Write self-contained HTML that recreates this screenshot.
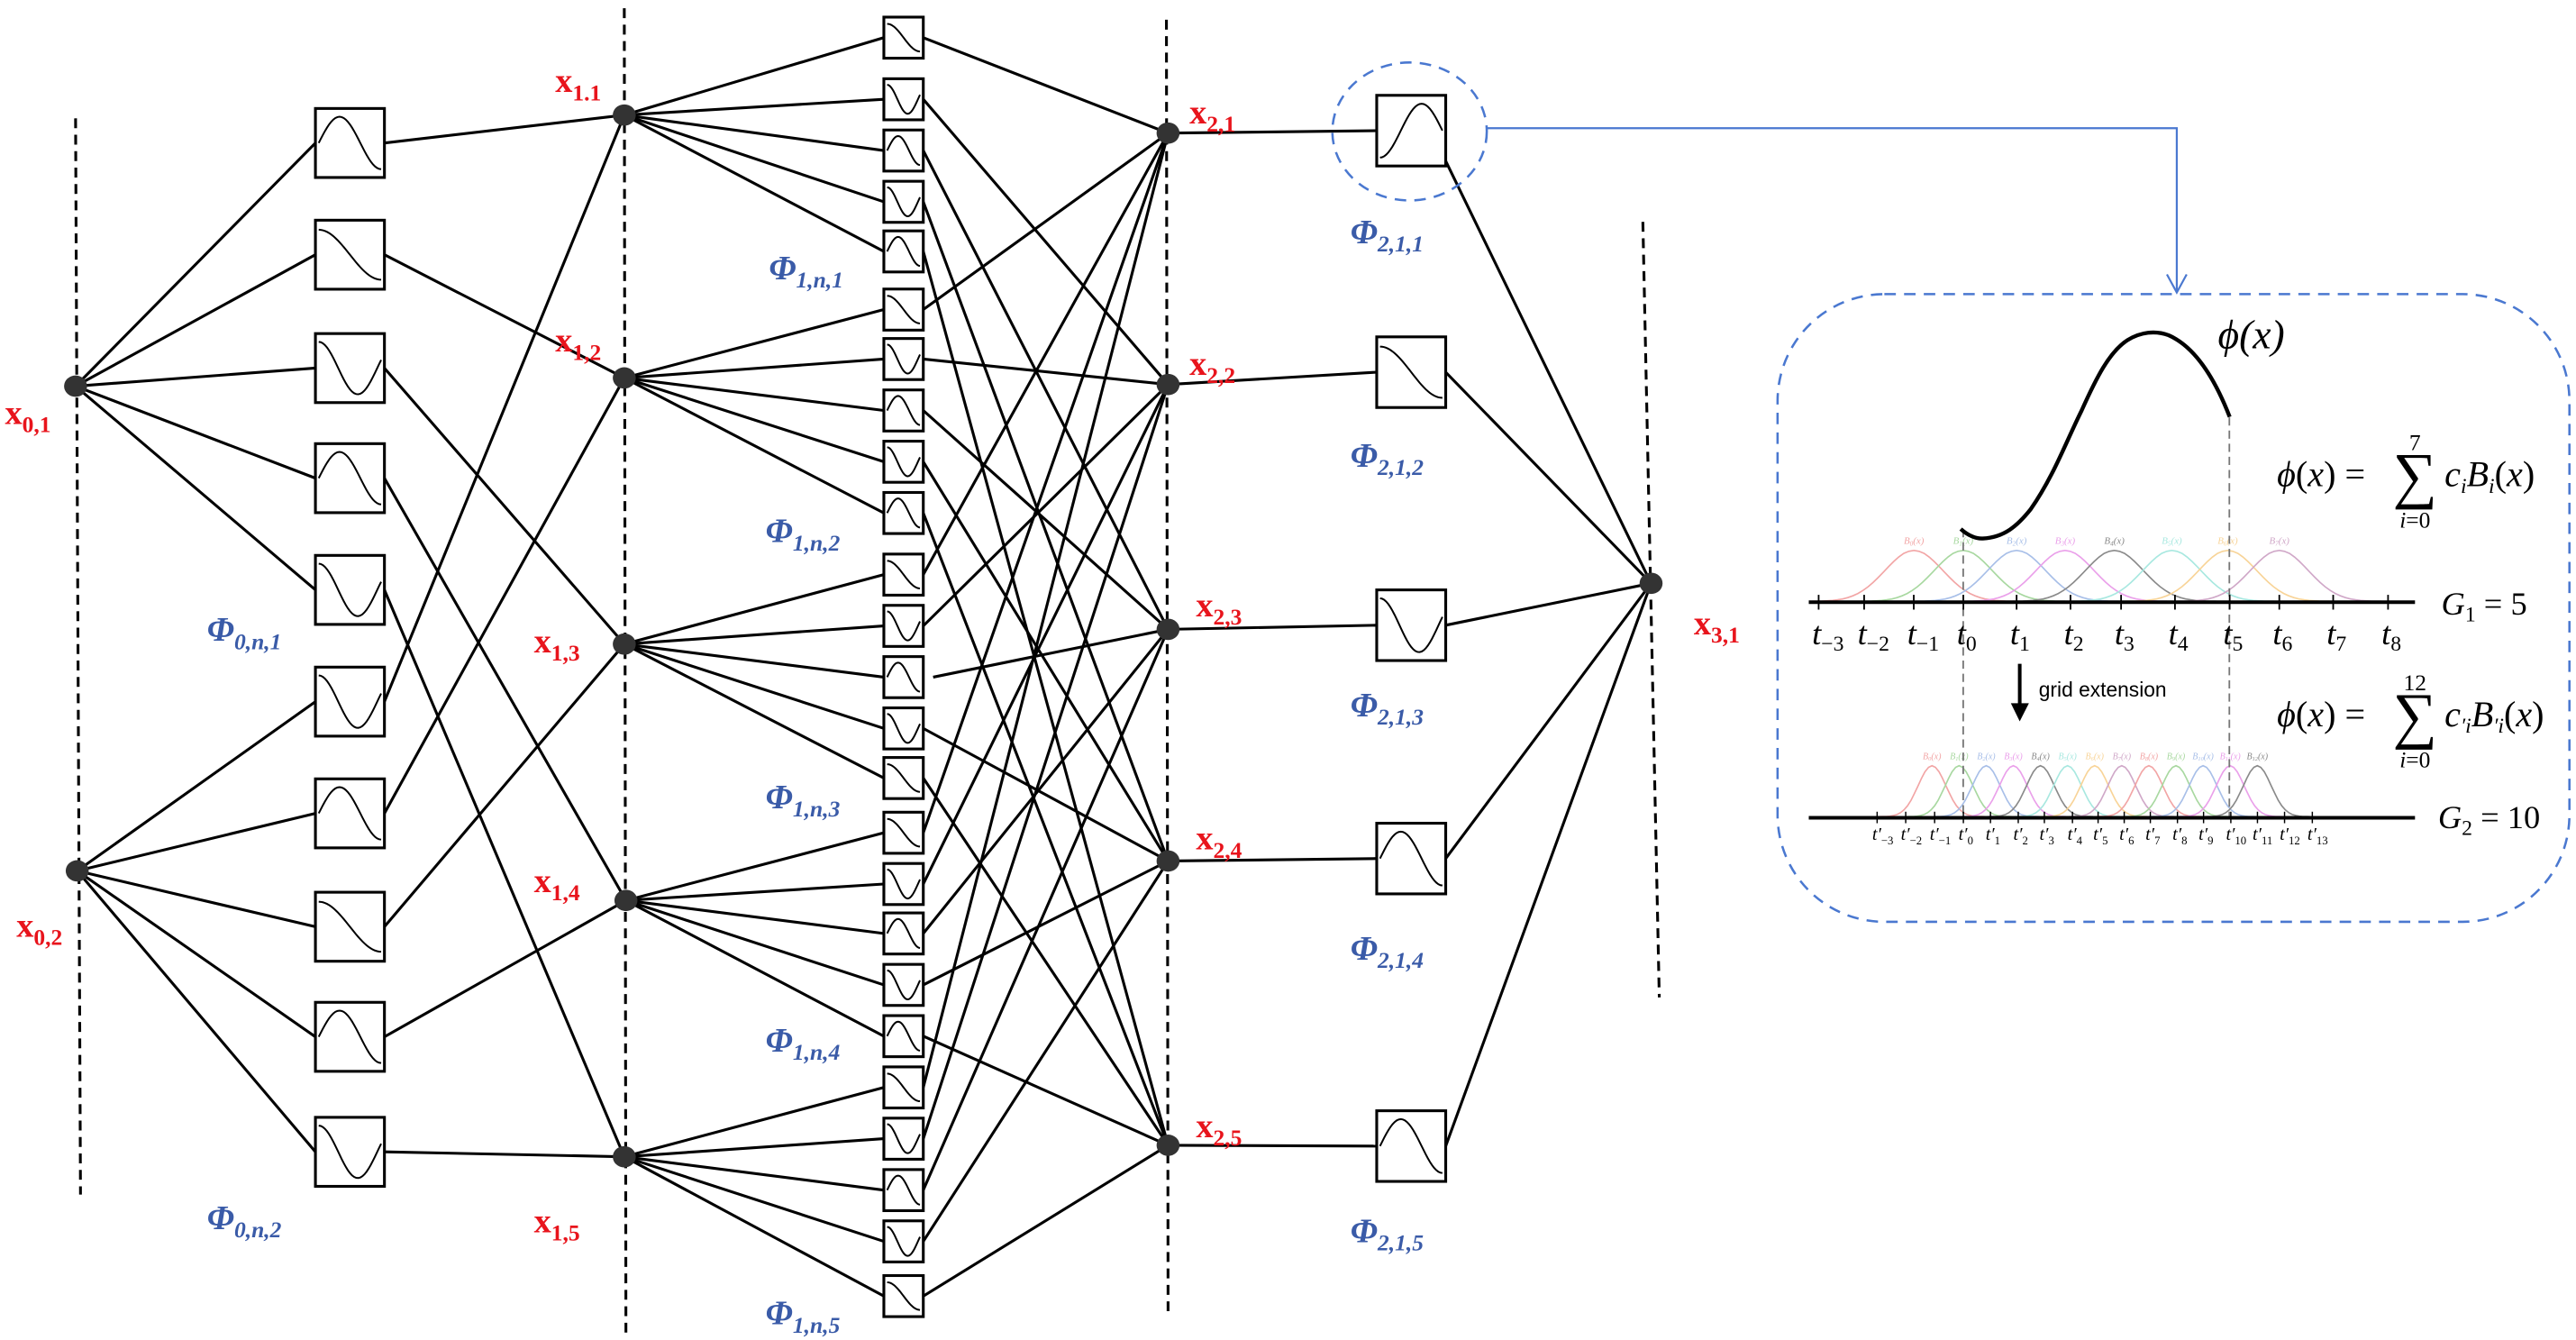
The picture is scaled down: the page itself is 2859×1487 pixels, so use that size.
<!DOCTYPE html>
<html><head><meta charset="utf-8"><style>
html,body{margin:0;padding:0;background:#fff;}
svg{display:block;}
</style></head><body>
<svg id="s" xmlns="http://www.w3.org/2000/svg" width="2859" height="1487" viewBox="0 0 1568 815.5">
<rect width="1568" height="815.5" fill="#fff"/>
<g id="g"></g>
</svg>
<script>
var g=document.getElementById('g');
var out='';
function L(x1,y1,x2,y2,w,c,extra){out+='<line x1="'+x1+'" y1="'+y1+'" x2="'+x2+'" y2="'+y2+'" stroke="'+(c||'#000')+'" stroke-width="'+(w||1.7)+'" '+(extra||'')+'/>';}
function D(x1,y1,x2,y2){L(x1,y1,x2,y2,1.7,'#000','stroke-dasharray="6 4"');}
function node(x,y){out+='<ellipse cx="'+x+'" cy="'+y+'" rx="7" ry="6.5" fill="#333"/>';}
var F={
 hump:function(t){return 0.5-0.42*Math.sin(Math.PI*1.5*t);},
 S:function(t){return 0.1+0.8*(1-Math.cos(Math.PI*t))/2;},
 dip:function(t){return 0.5-0.42*Math.cos(Math.PI*1.6*t);},
 rise:function(t){return 0.5+0.42*Math.cos(Math.PI*1.5*t);}
};
function box(x,y,w,h,type,sw){
 out+='<rect x="'+x+'" y="'+y+'" width="'+w+'" height="'+h+'" fill="#fff" stroke="#000" stroke-width="'+(sw||1.7)+'"/>';
 var p='';for(var i=0;i<=30;i++){var t=i/30;var px=x+2+t*(w-4);var py=y+2+F[type](t)*(h-4);p+=(i?'L':'M')+px.toFixed(2)+','+py.toFixed(2);}
 out+='<path d="'+p+'" fill="none" stroke="#000" stroke-width="1.1"/>';
}
function xl(x,y,sub){out+='<text x="'+x+'" y="'+y+'" font-family="Liberation Serif, serif" font-weight="bold" font-size="21" fill="#e8141c">x<tspan font-size="14" dy="5">'+sub+'</tspan></text>';}
function pl(x,y,sub){out+='<text x="'+x+'" y="'+y+'" font-family="Liberation Serif, serif" font-weight="bold" font-style="italic" font-size="21" fill="#3a5ba8">Φ<tspan font-size="14" dy="5">'+sub+'</tspan></text>';}

D(46,72,49,727);
D(380,5,381,815);
D(710,12,711,798);
D(1000,135,1010,607);

var n0=[[46,235],[47,530]];
var b0t=[66,134,203,270,338,406,474,543,610,680];
var b0type=['hump','S','dip','hump','dip','dip','hump','S','hump','dip'];
var n1=[[380,70],[380,230],[380,392],[381,548],[380,704]];
for(var i=0;i<10;i++){
 var n=n0[i<5?0:1];var cy=b0t[i]+21;
 L(n[0],n[1],192,cy);
 var t=n1[i%5];L(234,cy,t[0],t[1]);
}
for(var i=0;i<10;i++)box(192,b0t[i],42,42,b0type[i]);

var b1t=[10.4,47.9,79.1,110.3,140.5,175.9,206,237.3,268.5,299.7,337.2,368.4,399.6,430.8,461,494.3,525.5,555.6,586.9,618.1,649.3,680.5,711.8,743,776.3];
var b1type=['S','dip','hump','dip','hump','S','dip','hump','dip','hump','S','dip','hump','dip','S','S','dip','hump','dip','hump','S','dip','hump','dip','S'];
var n2=[[711,81],[711,234],[711,383],[711,524],[711,697]];
for(var i=0;i<25;i++){
 var gi=Math.floor(i/5),k=i%5;var cy=b1t[i]+12.5;
 L(n1[gi][0],n1[gi][1],538,cy);
 var t=n2[k];
 var sx=562; if(i==12) sx=568;
 L(sx,cy,t[0],t[1]);
}
for(var i=0;i<25;i++)box(538,b1t[i],24,25,b1type[i],1.7);

var b2t=[58,205,359,501,676];
var b2type=['rise','S','dip','hump','hump'];
var n3=[1005,355];
for(var i=0;i<5;i++){
 var cy=b2t[i]+21.5;
 L(n2[i][0],n2[i][1],838,cy);
 L(880,i==0?b2t[i]+40:cy,n3[0],n3[1]);
}
for(var i=0;i<5;i++)box(838,b2t[i],42,43,b2type[i]);

n0.forEach(function(n){node(n[0],n[1]);});
n1.forEach(function(n){node(n[0],n[1]);});
n2.forEach(function(n){node(n[0],n[1]);});
node(1005,355);

xl(3,258,'0,1');xl(10,570,'0,2');
xl(338,56,'1.1');xl(338,214,'1,2');xl(325,397,'1,3');xl(325,543,'1,4');xl(325,750,'1,5');
xl(724,75,'2,1');xl(724,228,'2,2');xl(728,375,'2,3');xl(728,517,'2,4');xl(728,692,'2,5');
xl(1031,386,'3,1');
pl(126,390,'0,n,1');pl(126,748,'0,n,2');
pl(468,170,'1,n,1');pl(466,330,'1,n,2');pl(466,492,'1,n,3');pl(466,640,'1,n,4');pl(466,806,'1,n,5');
pl(822,148,'2,1,1');pl(822,284,'2,1,2');pl(822,436,'2,1,3');pl(822,584,'2,1,4');pl(822,756,'2,1,5');

out+='<ellipse cx="858" cy="80" rx="47" ry="42" fill="none" stroke="#4a78d0" stroke-width="1.4" stroke-dasharray="7 5"/>';
out+='<polyline points="905,78 1325,78 1325,178" fill="none" stroke="#4a78d0" stroke-width="1.2"/>';
out+='<polyline points="1319,167 1325,178 1331,167" fill="none" stroke="#4a78d0" stroke-width="1.2"/>';
out+='<rect x="1082" y="179" width="482" height="382" rx="65" ry="65" fill="none" stroke="#4a78d0" stroke-width="1.4" stroke-dasharray="7 5"/>';

var cols=['#f2a5a5','#a8d8a0','#a8bfe8','#eaa0ea','#8a8a8a','#a8e8e0','#f8d498','#d0a8c8','#f2a5a5','#a8d8a0','#a8bfe8','#eaa0ea','#8a8a8a'];
var c1=[1165,1195,1227.5,1257,1287,1322,1356,1387.4];
for(var i=0;i<8;i++){
 var p='';for(var j=0;j<=40;j++){var dx=-62+124*j/40;var y=366-31*Math.exp(-Math.pow(dx/25,2));p+=(j?'L':'M')+(c1[i]+dx).toFixed(1)+','+y.toFixed(1);}
 out+='<path d="'+p+'" fill="none" stroke="'+cols[i]+'" stroke-width="0.9"/>';
 out+='<text x="'+c1[i]+'" y="331" font-family="Liberation Serif, serif" font-style="italic" font-size="6" fill="'+cols[i]+'" text-anchor="middle">B<tspan font-size="4" dy="1">'+i+'</tspan><tspan dy="-1">(x)</tspan></text>';
}
for(var i=0;i<13;i++){
 var cx=1176+16.5*i;
 var p='';for(var j=0;j<=30;j++){var dx=-32+64*j/30;var y=497-31*Math.exp(-Math.pow(dx/12,2));p+=(j?'L':'M')+(cx+dx).toFixed(1)+','+y.toFixed(1);}
 out+='<path d="'+p+'" fill="none" stroke="'+cols[i]+'" stroke-width="0.9"/>';
 out+='<text x="'+cx+'" y="462" font-family="Liberation Serif, serif" font-style="italic" font-size="5.5" fill="'+cols[i]+'" text-anchor="middle">B<tspan font-size="3.5" dy="1">'+i+'</tspan><tspan dy="-1">(x)</tspan></text>';
}
L(1195,322,1195,498,1,'#777','stroke-dasharray="5 3"');
L(1357,254,1357,498,1,'#777','stroke-dasharray="5 3"');
L(1101,366.5,1470,366.5,2.2);
var t1=[1107,1134.7,1164.9,1195.1,1227.5,1260.3,1291.1,1323.9,1357.2,1387.4,1420.2,1453.6];
var t1l=['−3','−2','−1','0','1','2','3','4','5','6','7','8'];
for(var i=0;i<12;i++){L(t1[i],362,t1[i],371,1);
 out+='<text x="'+(t1[i]-4)+'" y="392" font-family="Liberation Serif, serif" font-style="italic" font-size="20">t<tspan font-size="13" font-style="normal" dy="4">'+t1l[i]+'</tspan></text>';}
L(1101,497.7,1470,497.7,2.2);
var t2=[1142.6,1160,1177.6,1195.1,1211.6,1228.5,1244.4,1261.5,1277.1,1293,1308.9,1325.4,1341.3,1357.9,1374.1,1390.6,1407.5];
var t2l=['−3','−2','−1','0','1','2','3','4','5','6','7','8','9','10','11','12','13'];
for(var i=0;i<17;i++){L(t2[i],494,t2[i],501,0.8);
 out+='<text x="'+(t2[i]-3)+'" y="511" font-family="Liberation Serif, serif" font-style="italic" font-size="11">t′<tspan font-size="7" font-style="normal" dy="3">'+t2l[i]+'</tspan></text>';}
out+='<path d="M1193.5,321.9 C1198,326 1203,328 1207,327.7 C1220,327 1228,320 1236,310 C1250,290 1258,268 1267,250 C1276,230 1284,214 1295,207 C1303,202 1312,201 1320,204 C1336,211 1348,230 1357.2,253.7" fill="none" stroke="#000" stroke-width="2.4"/>';
out+='<text x="1350" y="212" font-family="Liberation Serif, serif" font-style="italic" font-size="25">ϕ(x)</text>';
function formula(y,top,c,b){
 out+='<text x="1386" y="'+y+'" font-family="Liberation Serif, serif" font-size="22"><tspan font-style="italic">ϕ</tspan>(<tspan font-style="italic">x</tspan>) =</text>';
 out+='<text x="1470" y="'+(y+6)+'" font-family="Liberation Serif, serif" font-size="38" text-anchor="middle">∑</text>';
 out+='<text x="1470" y="'+(y-22)+'" font-family="Liberation Serif, serif" font-size="14" text-anchor="middle">'+top+'</text>';
 out+='<text x="1470" y="'+(y+25)+'" font-family="Liberation Serif, serif" font-size="14" text-anchor="middle" font-style="italic">i<tspan font-style="normal">=0</tspan></text>';
 out+='<text x="1488" y="'+y+'" font-family="Liberation Serif, serif" font-style="italic" font-size="22">c<tspan font-size="13" dy="4">'+c+'</tspan><tspan dy="-4">B</tspan><tspan font-size="13" dy="4">'+b+'</tspan><tspan dy="-4" font-style="normal">(</tspan>x<tspan font-style="normal">)</tspan></text>';
}
formula(296,'7','i','i');
formula(442,'12','′i','′i');
out+='<text x="1486" y="374" font-family="Liberation Serif, serif" font-size="20"><tspan font-style="italic">G</tspan><tspan font-size="13" dy="4">1</tspan><tspan dy="-4"> = 5</tspan></text>';
out+='<text x="1484" y="504" font-family="Liberation Serif, serif" font-size="20"><tspan font-style="italic">G</tspan><tspan font-size="13" dy="4">2</tspan><tspan dy="-4"> = 10</tspan></text>';
L(1229.4,404,1229.4,430,2.2);
out+='<polygon points="1224,428 1235,428 1229.4,439" fill="#000"/>';
out+='<text x="1241" y="424" font-family="Liberation Sans, sans-serif" font-size="12.5">grid extension</text>';
g.innerHTML=out;
</script>
</body></html>
